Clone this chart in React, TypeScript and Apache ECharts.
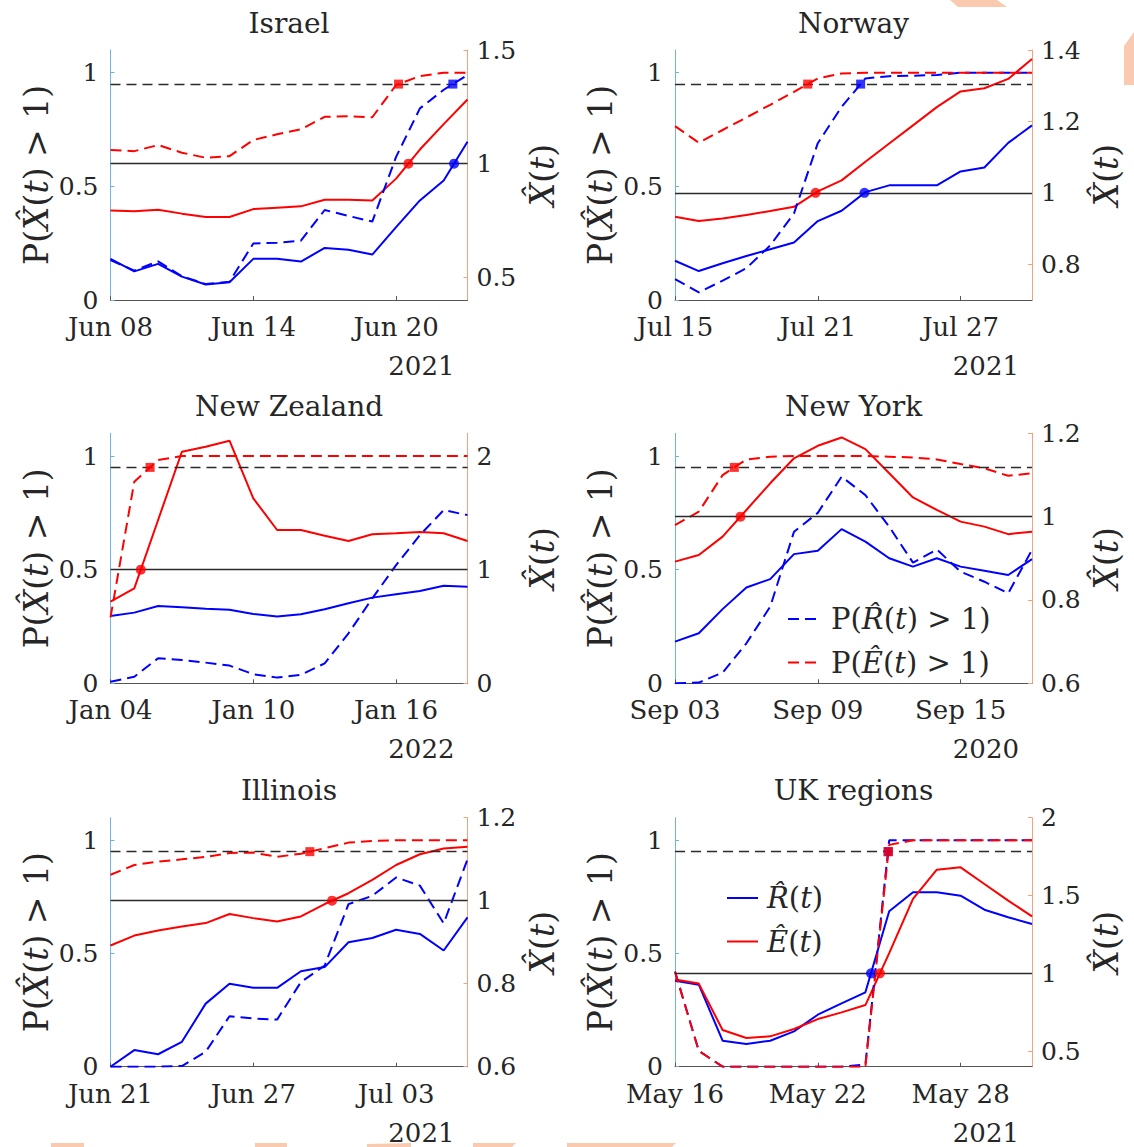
import React, { useEffect, useRef } from "react";
import * as echarts from "echarts";

const FONT = "DejaVu Serif";
const TXT = "#262626";
const BLUE = "#0000ff";
const RED = "#ff0000";

// x = day index from first date (16 daily points)
const xTickDays = [0, 6, 12];
const leftTicks = [0, 0.5, 1];

// ---------- Israel ----------
const israelDates = ["Jun 08", "Jun 14", "Jun 20"];
const israelR = [0.581, 0.526, 0.559, 0.503, 0.468, 0.478, 0.581, 0.581, 0.569, 0.629, 0.621, 0.600, 0.721, 0.838, 0.926, 1.096];
const israelE = [0.794, 0.791, 0.797, 0.780, 0.765, 0.765, 0.800, 0.806, 0.812, 0.841, 0.841, 0.838, 0.934, 1.062, 1.174, 1.282];
const israelPR = [0.176, 0.129, 0.170, 0.105, 0.070, 0.080, 0.249, 0.252, 0.261, 0.396, 0.370, 0.345, 0.630, 0.843, 0.925, 0.990];
const israelPE = [0.660, 0.655, 0.682, 0.648, 0.626, 0.633, 0.704, 0.729, 0.751, 0.806, 0.809, 0.804, 0.946, 0.985, 1.0, 1.0];
const israelRange = [0.4, 1.5];
const israelRightTicks = [0.5, 1, 1.5];

// ---------- Norway ----------
const norwayDates = ["Jul 15", "Jul 21", "Jul 27"];
const norwayR = [0.810, 0.781, 0.803, 0.823, 0.842, 0.861, 0.921, 0.950, 1.002, 1.021, 1.021, 1.021, 1.060, 1.071, 1.140, 1.189];
const norwayE = [0.933, 0.921, 0.928, 0.938, 0.949, 0.961, 1.004, 1.035, 1.087, 1.138, 1.189, 1.240, 1.284, 1.293, 1.319, 1.375];
const norwayPR = [0.092, 0.034, 0.085, 0.140, 0.240, 0.381, 0.690, 0.850, 0.975, 0.985, 0.987, 0.990, 1.0, 1.0, 1.0, 1.0];
const norwayPE = [0.765, 0.692, 0.748, 0.803, 0.859, 0.916, 0.975, 0.997, 1.0, 1.0, 1.0, 1.0, 1.0, 1.0, 1.0, 1.0];
const norwayRange = [0.7, 1.4];
const norwayRightTicks = [0.8, 1, 1.2, 1.4];

// ---------- New Zealand ----------
const nzDates = ["Jan 04", "Jan 10", "Jan 16"];
const nzR = [0.592, 0.622, 0.680, 0.669, 0.657, 0.648, 0.610, 0.587, 0.607, 0.651, 0.704, 0.754, 0.783, 0.812, 0.859, 0.850];
const nzE = [0.718, 0.836, 1.437, 2.038, 2.082, 2.135, 1.628, 1.349, 1.349, 1.299, 1.252, 1.311, 1.320, 1.331, 1.320, 1.252];
const nzPR = [0.007, 0.029, 0.110, 0.103, 0.091, 0.078, 0.040, 0.025, 0.037, 0.088, 0.220, 0.374, 0.520, 0.652, 0.762, 0.740];
const nzPE = [0.290, 0.887, 0.982, 1.0, 1.0, 1.0, 1.0, 1.0, 1.0, 1.0, 1.0, 1.0, 1.0, 1.0, 1.0, 1.0];
const nzRange = [0, 2.2];
const nzRightTicks = [0, 1, 2];

// ---------- New York ----------
const nyDates = ["Sep 03", "Sep 09", "Sep 15"];
const nyR = [0.700, 0.720, 0.778, 0.830, 0.850, 0.910, 0.918, 0.970, 0.940, 0.900, 0.880, 0.900, 0.880, 0.870, 0.860, 0.898];
const nyE = [0.892, 0.908, 0.952, 1.016, 1.080, 1.140, 1.170, 1.190, 1.162, 1.104, 1.046, 1.016, 0.988, 0.976, 0.958, 0.964];
const nyPR = [0.0, 0.003, 0.047, 0.176, 0.337, 0.667, 0.750, 0.909, 0.828, 0.689, 0.531, 0.589, 0.491, 0.447, 0.396, 0.587];
const nyPE = [0.696, 0.755, 0.916, 0.985, 0.997, 1.0, 1.0, 1.0, 1.0, 0.997, 0.994, 0.985, 0.965, 0.946, 0.913, 0.924];
const nyRange = [0.6, 1.2];
const nyRightTicks = [0.6, 0.8, 1, 1.2];

// ---------- Illinois ----------
const ilDates = ["Jun 21", "Jun 27", "Jul 03"];
const ilR = [0.600, 0.640, 0.630, 0.660, 0.752, 0.800, 0.790, 0.790, 0.830, 0.840, 0.900, 0.910, 0.930, 0.920, 0.880, 0.960];
const ilE = [0.892, 0.916, 0.928, 0.938, 0.946, 0.968, 0.958, 0.950, 0.962, 0.992, 1.018, 1.050, 1.086, 1.112, 1.126, 1.130];
const ilPR = [0.0, 0.0, 0.0, 0.003, 0.066, 0.223, 0.213, 0.208, 0.374, 0.447, 0.718, 0.755, 0.836, 0.800, 0.633, 0.916];
const ilPE = [0.848, 0.891, 0.906, 0.916, 0.927, 0.944, 0.946, 0.927, 0.941, 0.965, 0.990, 0.997, 1.0, 1.0, 1.0, 1.0];
const ilRange = [0.6, 1.2];
const ilRightTicks = [0.6, 0.8, 1, 1.2];

// ---------- UK regions ----------
const ukDates = ["May 16", "May 22", "May 28"];
const ukR = [0.953, 0.927, 0.567, 0.546, 0.567, 0.627, 0.734, 0.807, 0.878, 1.399, 1.521, 1.521, 1.499, 1.409, 1.360, 1.317];
const ukE = [0.960, 0.934, 0.636, 0.584, 0.595, 0.642, 0.706, 0.749, 0.796, 1.130, 1.478, 1.666, 1.681, 1.574, 1.467, 1.366];
const ukPR = [0.42, 0.07, 0.0, 0.0, 0.0, 0.0, 0.0, 0.0, 0.01, 1.0, 1.0, 1.0, 1.0, 1.0, 1.0, 1.0];
const ukPE = [0.42, 0.07, 0.0, 0.0, 0.0, 0.0, 0.0, 0.0, 0.0, 0.98, 1.0, 1.0, 1.0, 1.0, 1.0, 1.0];
const ukRange = [0.4, 2.0];
const ukRightTicks = [0.5, 1, 1.5, 2];

const NAME_PR = "P(R\u0302(t) > 1)";
const NAME_PE = "P(\u00CA(t) > 1)";
const NAME_R = "R\u0302(t)";
const NAME_E = "\u00CA(t)";

const panels = [
  { title: "Israel", year: "2021", dates: israelDates, R: israelR, E: israelE, PR: israelPR, PE: israelPE, range: israelRange, rticks: israelRightTicks },
  { title: "Norway", year: "2021", dates: norwayDates, R: norwayR, E: norwayE, PR: norwayPR, PE: norwayPE, range: norwayRange, rticks: norwayRightTicks },
  { title: "New Zealand", year: "2022", dates: nzDates, R: nzR, E: nzE, PR: nzPR, PE: nzPE, range: nzRange, rticks: nzRightTicks },
  { title: "New York", year: "2020", dates: nyDates, R: nyR, E: nyE, PR: nyPR, PE: nyPE, range: nyRange, rticks: nyRightTicks },
  { title: "Illinois", year: "2021", dates: ilDates, R: ilR, E: ilE, PR: ilPR, PE: ilPE, range: ilRange, rticks: ilRightTicks },
  { title: "UK regions", year: "2021", dates: ukDates, R: ukR, E: ukE, PR: ukPR, PE: ukPE, range: ukRange, rticks: ukRightTicks },
];

const COL_LEFT = [110.5, 675];
const PLOT_W = 357;
const ROW_TOP = [50, 433.3, 817.7];
const ROW_H = [250, 250, 249];

const TICK_FS = 25;
const XLAB_FS = 26;
const NAME_FS = 33;
const TITLE_FS = 28;
const LEG_FS = 29;

function crossing(vals: number[], thr: number): number | null {
  for (let i = 1; i < vals.length; i++) {
    const a = vals[i - 1];
    const b = vals[i];
    if (a < thr && b >= thr) return i - 1 + (thr - a) / (b - a);
  }
  return null;
}

const toXY = (vals: number[]) => vals.map((v, i) => [i, v]);

const richI = (fs: number) => ({ fontStyle: "italic", fontFamily: FONT, fontSize: fs, color: TXT, lineHeight: fs });

function buildOption() {
  const grid: any[] = [];
  const xAxis: any[] = [];
  const yAxis: any[] = [];
  const series: any[] = [];
  const title: any[] = [];
  const graphic: any[] = [];

  panels.forEach((p, i) => {
    const col = i % 2;
    const row = Math.floor(i / 2);
    const left = COL_LEFT[col];
    const top = ROW_TOP[row];
    const h = ROW_H[row];
    grid.push({ left, top, width: PLOT_W, height: h });

    xAxis.push({
      type: "value",
      gridIndex: i,
      min: 0,
      max: 15,
      axisLine: { show: true, onZero: false, lineStyle: { color: "#555", width: 1 } },
      axisTick: { show: true, inside: true, length: 4, customValues: xTickDays, lineStyle: { color: "#555" } },
      axisLabel: {
        customValues: xTickDays,
        formatter: (v: number) => p.dates[xTickDays.indexOf(Math.round(v))] ?? "",
        margin: 15,
        fontFamily: FONT,
        fontSize: XLAB_FS,
        lineHeight: 24,
        color: TXT,
      },
      splitLine: { show: false },
    });

    yAxis.push({
      type: "value",
      gridIndex: i,
      position: "left",
      min: 0,
      max: 1.1,
      axisLine: { show: true, onZero: false, lineStyle: { color: "#6fb3e3", width: 1 } },
      axisTick: { show: true, inside: true, length: 4, customValues: leftTicks, lineStyle: { color: "#6fb3e3" } },
      axisLabel: { customValues: leftTicks, margin: 12, fontFamily: FONT, fontSize: TICK_FS, lineHeight: 20, color: TXT },
      splitLine: { show: false },
      name: "P({i|X\u0302}({i|t}) > 1)",
      nameLocation: "middle",
      nameGap: 58,
      nameTextStyle: { fontFamily: FONT, fontSize: NAME_FS, color: TXT, lineHeight: NAME_FS, rich: { i: richI(NAME_FS) } },
    });
    yAxis.push({
      type: "value",
      gridIndex: i,
      position: "right",
      min: p.range[0],
      max: p.range[1],
      axisLine: { show: true, onZero: false, lineStyle: { color: "#f2a27c", width: 1 } },
      axisTick: { show: true, inside: true, length: 4, customValues: p.rticks, lineStyle: { color: "#f2a27c" } },
      axisLabel: { customValues: p.rticks, margin: 9, fontFamily: FONT, fontSize: TICK_FS, lineHeight: 20, color: TXT },
      splitLine: { show: false },
      name: "{i|X\u0302}({i|t})",
      nameLocation: "middle",
      nameGap: 58,
      nameTextStyle: { fontFamily: FONT, fontSize: NAME_FS, color: TXT, lineHeight: NAME_FS, rich: { i: richI(NAME_FS) } },
    });

    const ly = 2 * i;
    const ry = 2 * i + 1;
    const isNY = i === 3;
    const isUK = i === 5;

    // reference lines
    series.push({
      type: "line", xAxisIndex: i, yAxisIndex: ry, data: [], silent: true, z: 1,
      markLine: {
        silent: true, symbol: ["none", "none"], label: { show: false },
        lineStyle: { color: "#2a2a2a", width: 1.3, type: "solid" },
        data: [{ yAxis: 1 }],
      },
    });
    series.push({
      type: "line", xAxisIndex: i, yAxisIndex: ly, data: [], silent: true, z: 1,
      markLine: {
        silent: true, symbol: ["none", "none"], label: { show: false },
        lineStyle: { color: "#2a2a2a", width: 1.3, type: [10, 6] },
        data: [{ yAxis: 0.95 }],
      },
    });

    const lineS = (name: string, vals: number[], yi: number, color: string, dashed: boolean) => ({
      type: "line",
      name,
      xAxisIndex: i,
      yAxisIndex: yi,
      data: toXY(vals),
      symbol: "none",
      showSymbol: false,
      silent: true,
      z: 3,
      lineStyle: { color, width: 2, type: dashed ? [11, 6] : "solid" },
      itemStyle: { color },
    });

    series.push(lineS(isUK ? NAME_R : `${p.title} R`, p.R, ry, BLUE, false));
    series.push(lineS(isUK ? NAME_E : `${p.title} E`, p.E, ry, RED, false));
    series.push(lineS(isNY ? NAME_PR : `${p.title} PR`, p.PR, ly, BLUE, true));
    series.push(lineS(isNY ? NAME_PE : `${p.title} PE`, p.PE, ly, RED, true));

    // crossing markers
    const sq = (vals: number[], color: string) => {
      const c = crossing(vals, 0.95);
      return {
        type: "scatter", xAxisIndex: i, yAxisIndex: ly, symbol: "rect", symbolSize: 9, silent: true, z: 5,
        itemStyle: { color }, data: c === null ? [] : [[c, 0.95]],
      };
    };
    const ci = (vals: number[], color: string) => {
      const c = crossing(vals, 1);
      return {
        type: "scatter", xAxisIndex: i, yAxisIndex: ry, symbol: "circle", symbolSize: 10, silent: true, z: 5,
        itemStyle: { color }, data: c === null ? [] : [[c, 1]],
      };
    };
    series.push(sq(p.PR, BLUE));
    series.push(sq(p.PE, RED));
    series.push(ci(p.R, BLUE));
    series.push(ci(p.E, RED));

    title.push({
      text: p.title,
      left: left + PLOT_W / 2,
      top: top - 41,
      textAlign: "center",
      padding: 0,
      textStyle: { fontFamily: FONT, fontSize: TITLE_FS, fontWeight: "normal", color: TXT },
    });

    graphic.push({
      type: "text",
      x: left + PLOT_W - 13,
      y: top + h + 66,
      style: {
        text: p.year, fontFamily: FONT, fontSize: XLAB_FS, fill: TXT,
        align: "right", verticalAlign: "middle", textAlign: "right", textVerticalAlign: "middle",
      },
    });
  });

  // faint background shapes from the source page
  const deco = "#f9c9b0";
  const polys = [
    [[950, 0], [997, 0], [1007, 7], [958, 7]],
    [[1134, 32], [1124, 46], [1124, 85], [1134, 85]],
    [[51, 1143], [84, 1143], [84, 1147], [51, 1147]],
    [[255, 1143], [287, 1143], [287, 1147], [255, 1147]],
    [[367, 1144], [411, 1143], [411, 1147], [367, 1147]],
    [[473, 1143], [516, 1143], [512, 1147], [473, 1147]],
    [[567, 1143], [676, 1143], [672, 1147], [567, 1147]],
  ];
  polys.forEach((pts) =>
    graphic.push({ type: "polygon", z: -10, silent: true, shape: { points: pts }, style: { fill: deco } })
  );

  const legendFmt: Record<string, string> = {
    [NAME_PR]: "P({i|R\u0302}({i|t}) > 1)",
    [NAME_PE]: "P({i|\u00CA}({i|t}) > 1)",
    [NAME_R]: "{i|R\u0302}({i|t})",
    [NAME_E]: "{i|\u00CA}({i|t})",
  };
  const legendBase = {
    orient: "vertical",
    itemWidth: 31,
    itemHeight: 14,
    itemGap: 13.5,
    padding: 0,
    selectedMode: false,
    itemStyle: { opacity: 0 },
    formatter: (n: string) => legendFmt[n] ?? n,
  };

  return {
    animation: false,
    backgroundColor: "#ffffff",
    title,
    grid,
    xAxis,
    yAxis,
    series,
    graphic,
    legend: [
      {
        ...legendBase,
        left: 787,
        top: 604,
        data: [NAME_PR, NAME_PE],
        textStyle: { fontFamily: FONT, fontSize: LEG_FS, color: TXT, lineHeight: 30, padding: [0, 0, 0, 7], rich: { i: richI(LEG_FS) } },
      },
      {
        ...legendBase,
        left: 726,
        top: 883,
        data: [NAME_R, NAME_E],
        textStyle: { fontFamily: FONT, fontSize: LEG_FS, color: TXT, lineHeight: 30, padding: [0, 0, 0, 4], rich: { i: richI(LEG_FS) } },
      },
    ],
  };
}

export default function App() {
  const ref = useRef<HTMLDivElement>(null);
  useEffect(() => {
    if (!ref.current) return;
    const chart = echarts.init(ref.current, null, { renderer: "svg" });
    chart.setOption(buildOption() as any);
    return () => chart.dispose();
  }, []);
  return (
    <div
      ref={ref}
      style={{ position: "absolute", left: 0, top: 0, width: 1134, height: 1147, background: "#fff" }}
    />
  );
}
